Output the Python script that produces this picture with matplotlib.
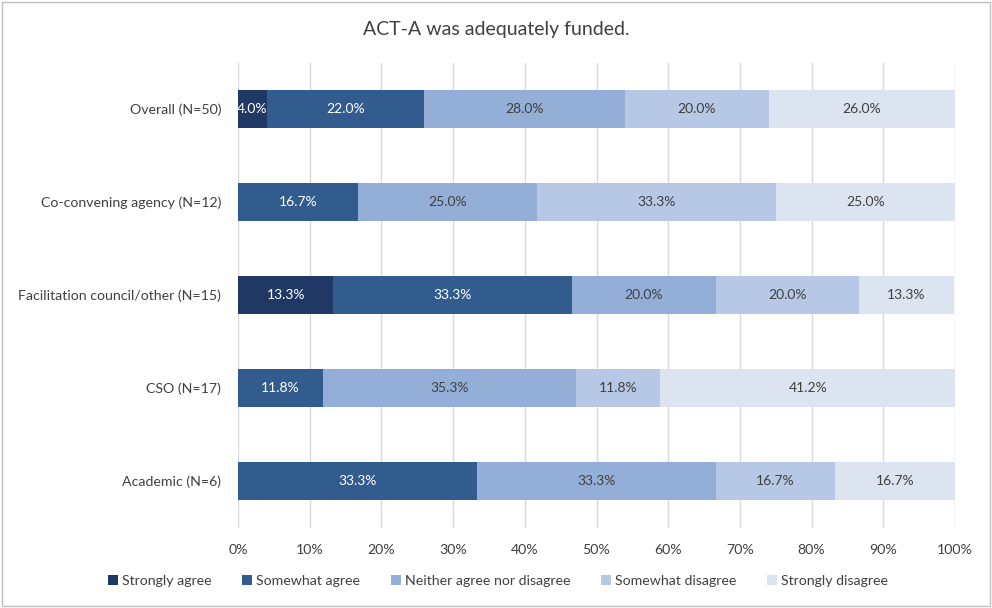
import matplotlib
matplotlib.use("Agg")
import matplotlib.pyplot as plt
from matplotlib.patches import Rectangle
import numpy as np

plt.rcParams['font.family'] = ['Lato', 'DejaVu Sans']

categories = ["Overall (N=50)", "Co-convening agency (N=12)", "Facilitation council/other (N=15)",
              "CSO (N=17)", "Academic (N=6)"]
series_names = ["Strongly agree", "Somewhat agree", "Neither agree nor disagree",
                "Somewhat disagree", "Strongly disagree"]
strongly_agree = [4.0, 0.0, 13.3, 0.0, 0.0]
somewhat_agree = [22.0, 16.7, 33.3, 11.8, 33.3]
neither = [28.0, 25.0, 20.0, 35.3, 33.3]
somewhat_disagree = [20.0, 33.3, 20.0, 11.8, 16.7]
strongly_disagree = [26.0, 25.0, 13.3, 41.2, 16.7]
values = [strongly_agree, somewhat_agree, neither, somewhat_disagree, strongly_disagree]
colors = ["#203864", "#335C8E", "#93AFD7", "#B6C8E6", "#DCE4F2"]
text_colors = ["white", "white", "#404040", "#404040", "#404040"]
xticks = [0, 10, 20, 30, 40, 50, 60, 70, 80, 90, 100]

fig = plt.figure(figsize=(9.92, 6.08), dpi=100)
ax = fig.add_axes([238/992, 1-527.5/608, (955-238)/992, 465/608])

y = np.arange(len(categories))
left = np.zeros(len(categories))
for name, vals, c, tc in zip(series_names, values, colors, text_colors):
    vals = np.array(vals)
    ax.barh(y, vals, left=left, height=0.4, color=c, label=name, zorder=3)
    for yi, l, v in zip(y, left, vals):
        if v > 0:
            ax.text(l + v/2, yi, f"{v:.1f}%", ha='center', va='center', color=tc,
                    fontsize=10, zorder=4)
    left += vals

ax.set_xlim(0, 100)
ax.set_ylim(len(categories)-0.5, -0.5)
ax.set_yticks(y)
ax.set_yticklabels(categories, fontsize=10.2, color="#404040")
ax.set_xticks(xticks)
ax.set_xticklabels([f"{t}%" for t in xticks], fontsize=10.2, color="#404040")
ax.tick_params(axis='y', length=0, pad=12)
ax.tick_params(axis='x', length=0, pad=12)
ax.grid(axis='x', color="#D9D9D9", linewidth=1, zorder=0)
for s in ax.spines.values():
    s.set_visible(False)

fig.text(0.5, 1-30/608, "ACT-A was adequately funded.", ha='center', va='center',
         fontsize=14, color="#404040")

leg = fig.legend(loc='center', bbox_to_anchor=(498/992, 1-581/608), ncol=5, frameon=False,
                 fontsize=10.2, handlelength=0.7, handleheight=0.7, columnspacing=2.15,
                 handletextpad=0.3)
for t in leg.get_texts():
    t.set_color("#404040")

fig.patches.append(Rectangle((2/992, 2/608), 1-4/992, 1-4/608, transform=fig.transFigure,
                             fill=False, edgecolor="#BFBFBF", linewidth=1))

fig.savefig("out.png", dpi=100)
